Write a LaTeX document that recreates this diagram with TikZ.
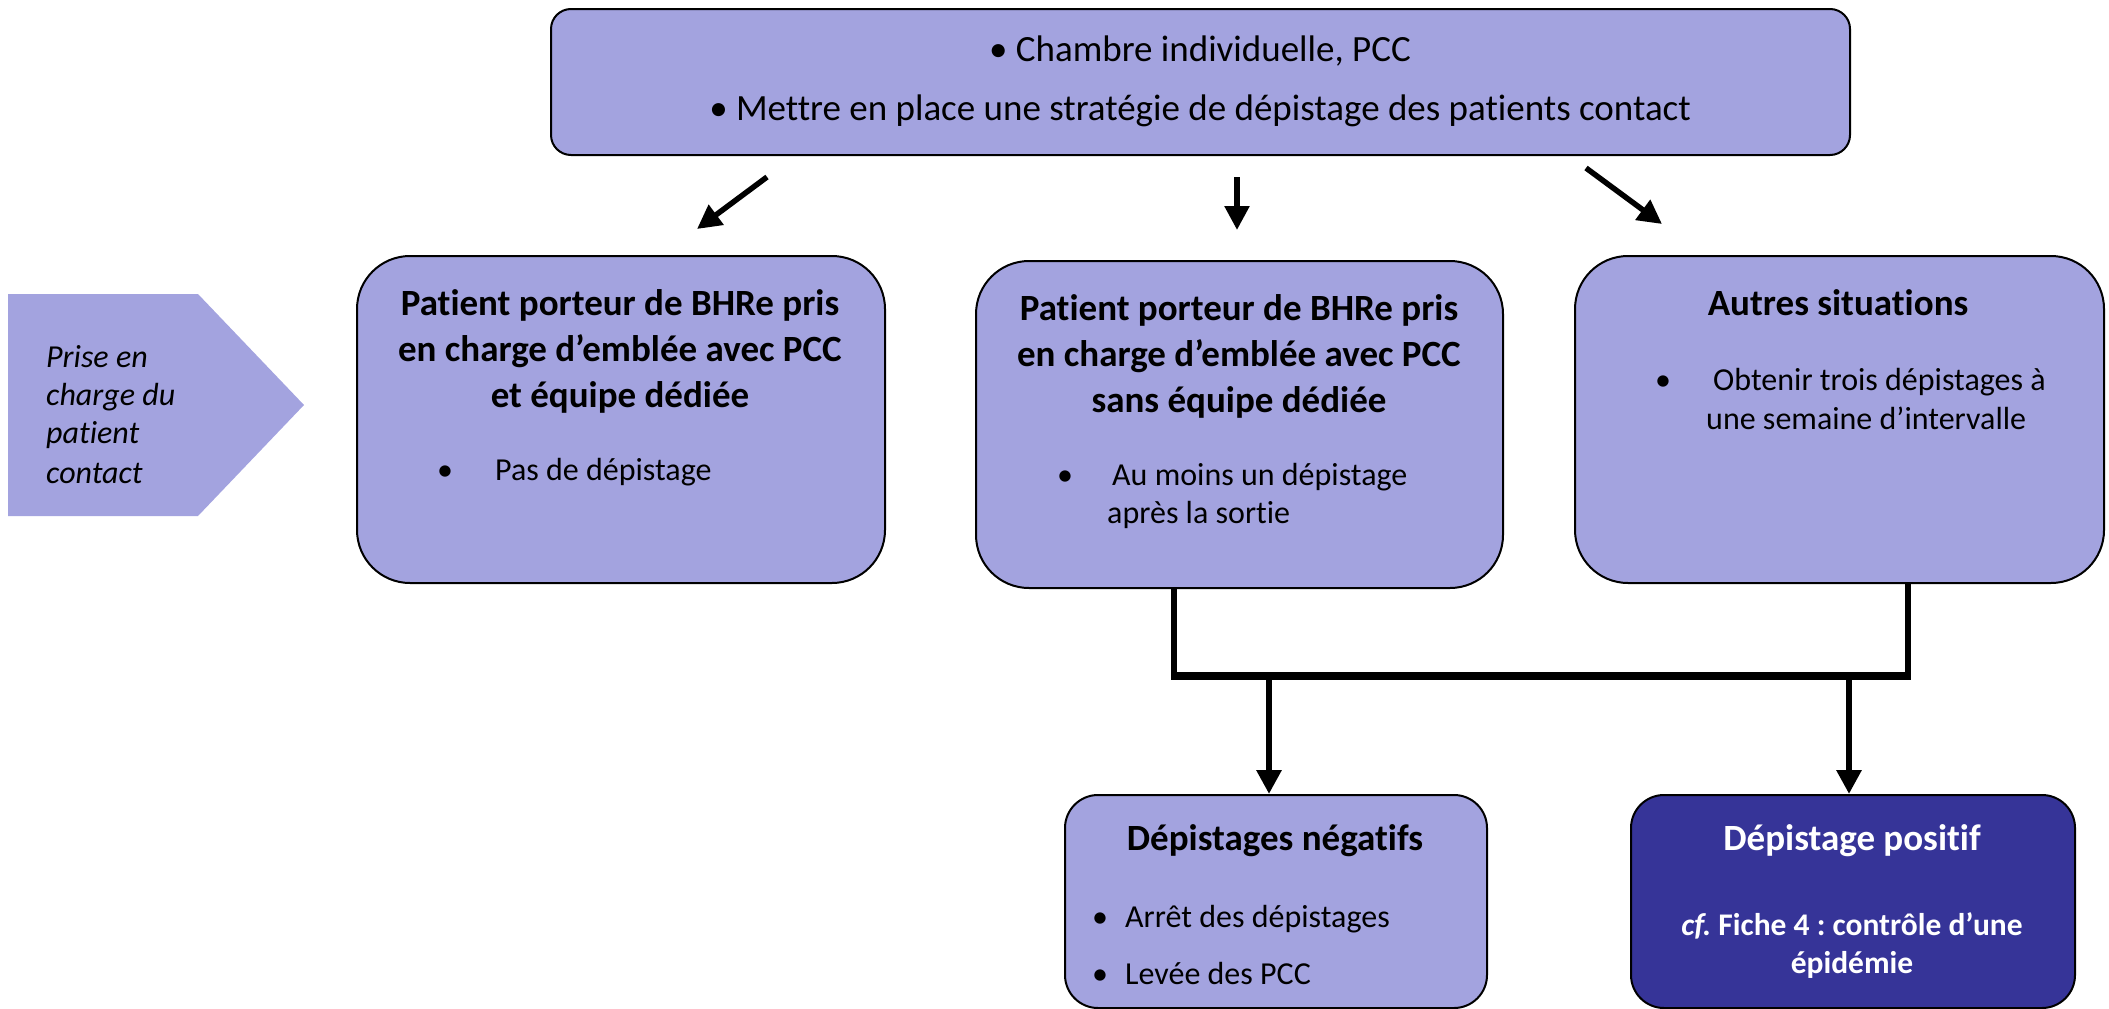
\documentclass[tikz,border=0pt]{standalone}
\usepackage{fontspec}
\setmainfont{Carlito}[Ligatures=NoCommon]
\usetikzlibrary{arrows.meta}
\definecolor{lav}{RGB}{163,163,223}
\definecolor{navy}{RGB}{54,52,152}
\frenchspacing
\begin{document}
\begin{tikzpicture}[x=1pt,y=-1pt,
  boxbase/.style={draw=black,line width=2pt,anchor=north west,inner sep=0pt},
  lbox/.style={boxbase,fill=lav},
  dbox/.style={boxbase,fill=navy},
  head/.style={inner sep=0pt,font=\fontsize{37}{44}\selectfont},
  body/.style={inner sep=0pt,font=\fontsize{32}{38}\selectfont},
  ttl/.style={inner sep=0pt,font=\fontsize{37}{44}\selectfont\bfseries},
  sub/.style={inner sep=0pt,font=\fontsize{31.5}{38}\selectfont\bfseries},
  itl/.style={inner sep=0pt,anchor=base west,font=\fontsize{32}{38}\selectfont\itshape},
  thinarrow/.style={line width=5.5pt,-{Triangle[length=24pt,width=24pt]}},
  link/.style={line width=6pt},
  bar/.style={line width=7.5pt},
  downarrow/.style={line width=6pt,-{Triangle[length=24pt,width=24pt]}}
]
\useasboundingbox (0,0) rectangle (2109,1009);

% left chevron
\fill[lav] (8,294) -- (198,294) -- (304,405) -- (198,516) -- (8,516) -- cycle;
\node[itl] (p1) at (46,367) {Prise en};
\node[itl] (p2) at (46,405) {charge du};
\node[itl] (p3) at (46,443) {patient};
\node[itl] (p4) at (46,483) {contact};

% top box
\node[lbox,rounded corners=20pt,minimum width=1299pt,minimum height=146pt] (top) at (550,8) {};
\node[head,anchor=base] (t1) at (1200,61) {• Chambre individuelle, PCC};
\node[head,anchor=base] (t2) at (1200,120) {• Mettre en place une stratégie de dépistage des patients contact};

% box A
\node[lbox,rounded corners=53pt,minimum width=528pt,minimum height=327pt] (A) at (356,255) {};
\node[ttl,anchor=base] (a1) at (620,315) {Patient porteur de BHRe pris};
\node[ttl,anchor=base] (a2) at (620,361) {en charge d’emblée avec PCC};
\node[ttl,anchor=base] (a3) at (620,407) {et équipe dédiée};
\node[body,anchor=base] (ab) at (445,480) {•};
\node[body,anchor=base west] (a4) at (495,480) {Pas de dépistage};

% box B
\node[lbox,rounded corners=53pt,minimum width=527pt,minimum height=327pt] (B) at (975,260) {};
\node[ttl,anchor=base] (b1) at (1239,320) {Patient porteur de BHRe pris};
\node[ttl,anchor=base] (b2) at (1239,366) {en charge d’emblée avec PCC};
\node[ttl,anchor=base] (b3) at (1239,412) {sans équipe dédiée};
\node[body,anchor=base] (bb) at (1065,485) {•};
\node[body,anchor=base west] (b4) at (1112,485) {Au moins un dépistage};
\node[body,anchor=base west] (b5) at (1107,523) {après la sortie};

% box C
\node[lbox,rounded corners=53pt,minimum width=529pt,minimum height=327pt] (C) at (1574,255) {};
\node[ttl,anchor=base] (c1) at (1838,315) {Autres situations};
\node[body,anchor=base] (cb) at (1663,390) {•};
\node[body,anchor=base west] (c2) at (1713,390) {Obtenir trois dépistages à};
\node[body,anchor=base west] (c3) at (1706,429) {une semaine d’intervalle};

% box D
\node[lbox,rounded corners=33pt,minimum width=422pt,minimum height=213pt] (D) at (1064,794) {};
\node[ttl,anchor=base] (d1) at (1275,850) {Dépistages négatifs};
\node[body,anchor=base] (db1) at (1100,927) {•};
\node[body,anchor=base west] (d2) at (1125,927) {Arrêt des dépistages};
\node[body,anchor=base] (db2) at (1100,984) {•};
\node[body,anchor=base west] (d3) at (1125,984) {Levée des PCC};

% box E
\node[dbox,rounded corners=33pt,minimum width=444pt,minimum height=213pt] (E) at (1630,794) {};
\node[ttl,anchor=base,text=white] (e1) at (1852,850) {Dépistage positif};
\node[sub,anchor=base,text=white] (e2) at (1852,935) {\textit{cf.} Fiche 4 : contrôle d’une};
\node[sub,anchor=base,text=white] (e3) at (1852,973) {épidémie};

% top arrows
\coordinate (l0) at (767,177); \coordinate (l1) at (697,229);
\coordinate (m0) at (1237,177); \coordinate (m1) at (1237,230);
\coordinate (r0) at (1586,168); \coordinate (r1) at (1662,224);
\draw[thinarrow] (l0) -- (l1);
\draw[thinarrow] (m0) -- (m1);
\draw[thinarrow] (r0) -- (r1);

% bottom connectors
\coordinate (jb) at (1174,676);
\coordinate (jc) at (1908,676);
\coordinate (jd) at (1269,676);
\coordinate (je) at (1849,676);
\draw[link] (B.south -| jb) -- (jb);
\draw[link] (C.south -| jc) -- (jc);
\draw[bar] ([xshift=-3pt]jb) -- ([xshift=3pt]jc);
\draw[downarrow] (jd) -- (D.north -| jd);
\draw[downarrow] (je) -- (E.north -| je);
\end{tikzpicture}
\end{document}
